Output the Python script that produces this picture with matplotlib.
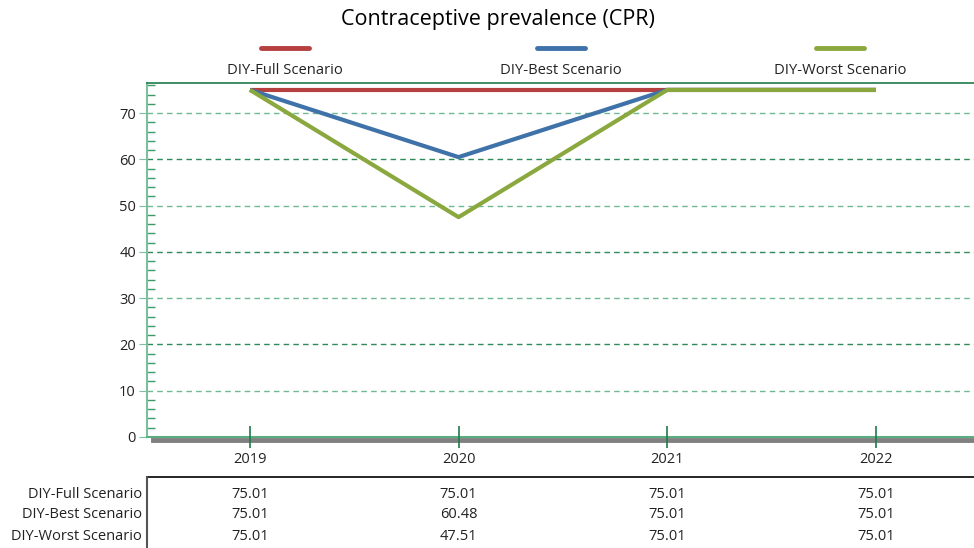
import numpy as np
import matplotlib.pyplot as plt
from matplotlib.lines import Line2D
from matplotlib.ticker import MultipleLocator
import matplotlib.transforms as mtransforms

plt.rcParams['font.family'] = ['Open Sans', 'DejaVu Sans']

years = [2019, 2020, 2021, 2022]
names = ["DIY-Full Scenario", "DIY-Best Scenario", "DIY-Worst Scenario"]
full = [75.01, 75.01, 75.01, 75.01]
best = [75.01, 60.48, 75.01, 75.01]
worst = [75.01, 47.51, 75.01, 75.01]
colors = ["#b5403f", "#3f72a8", "#8aa83e"]

fig = plt.figure(figsize=(9.74, 5.48), dpi=100)
ax = fig.add_axes([147/974, 1-437/548, 1-147/974, (437-83)/548])

for vals, c in zip([full, best, worst], colors):
    ax.plot(years, vals, color=c, lw=3, solid_capstyle='butt', zorder=3)

ax.set_xlim(2018.507, 2022.47)
ax.set_ylim(0, 76.5)

gcol = ["#6fb892", "#2e8b57"]
for i, y in enumerate(range(70, 0, -10)):
    ax.axhline(y, color=gcol[i % 2], lw=1, ls=(0, (4, 3)), zorder=1)

ax.spines["right"].set_visible(False)
ax.spines["left"].set_color("#7dbf9a")
ax.spines["left"].set_linewidth(1.5)
ax.spines["bottom"].set_color("#5aad80")
ax.spines["bottom"].set_linewidth(1.5)
ax.spines["top"].set_color("#1f7a4a")
ax.spines["top"].set_linewidth(1.2)

ax.yaxis.set_major_locator(MultipleLocator(10))
ax.yaxis.set_minor_locator(MultipleLocator(2))
ax.tick_params(axis="y", which="major", direction="out", length=6, color="#7dbf9a",
               labelsize=10.5, labelcolor="#222222", pad=2)
ax.tick_params(axis="y", which="minor", direction="in", length=6, color="#3f9a6a", width=1)
ax.set_xticks(years)
ax.set_xticklabels([str(y) for y in years])
ax.tick_params(axis="x", direction="inout", length=16, width=1.2, color="#1f7a4a",
               labelsize=10.5, labelcolor="#222222", pad=3)
ax.xaxis.set_zorder(5)

# gray shadow under axis, drawn beneath the ticks
ax.add_line(Line2D([153/974, 1], [1-440/548]*2, color="#808080", lw=3.5,
                   transform=fig.transFigure, clip_on=False, zorder=0.5))

fig.text(498/974, 1-20/548, "Contraceptive prevalence (CPR)", ha="center", va="center", fontsize=15.5)

# legend
centers = [285, 561, 840]
for name, c, cx in zip(names, colors, centers):
    fig.add_artist(Line2D([(cx-24)/974, (cx+24)/974], [1-48/548]*2, color=c, lw=3.5,
                          solid_capstyle='round'))
    fig.text(cx/974, 1-70/548, name, ha="center", va="center", fontsize=10.6, color="#222222")

# data table
fig.add_artist(Line2D([147/974, 1], [1-477/548]*2, color="black", lw=1.2))
fig.add_artist(Line2D([147/974]*2, [1-477/548, 0], color="#555555", lw=1.5))
trans = mtransforms.blended_transform_factory(ax.transData, fig.transFigure)
rows_y = [494, 515, 536]
for name, vals, ry in zip(names, [full, best, worst], rows_y):
    fig.text(142/974, 1-ry/548, name, ha="right", va="center", fontsize=10.5, color="#222222")
    for yr, v in zip(years, vals):
        ax.text(yr, 1-ry/548, f"{v:.2f}", transform=trans, ha="center", va="center",
                fontsize=10.5, color="#222222", clip_on=False)

fig.savefig("out.png", dpi=100)
